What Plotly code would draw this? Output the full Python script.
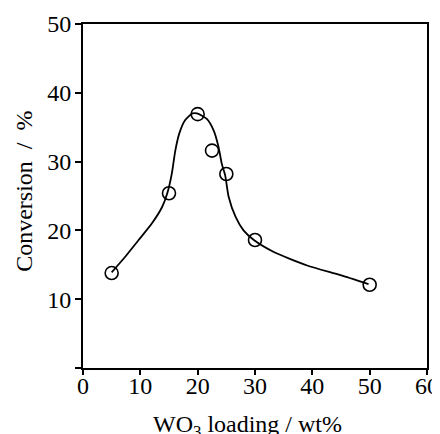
import plotly.graph_objects as go

# Measured data points
wo3_loading = [5, 15, 20, 22.5, 25, 30, 50]
conversion = [13.8, 25.4, 36.9, 31.6, 28.2, 18.6, 12.1]

# Hand-drawn trend curve
curve_x = [5.0, 7.4, 9.7, 12.0, 13.8, 14.7, 15.5, 16.1, 16.8, 17.8, 19.1, 19.9, 21.6, 22.8, 23.65, 24.2,
           24.8, 25.4, 26.6, 28.0, 29.8, 33.2, 39.1, 44.9, 49.8]
curve_y = [13.9, 16.2, 18.6, 21.0, 23.4, 25.4, 28.3, 31.6, 34.1, 36.0, 37.0, 37.0, 36.2, 34.5, 32.1, 29.7,
           28.0, 24.9, 22.0, 20.0, 18.6, 16.9, 14.9, 13.5, 12.2]

x_ticks = [0, 10, 20, 30, 40, 50, 60]
x_labels = ["0", "10", "20", "30", "40", "50", "60"]
y_ticks = [0, 10, 20, 30, 40, 50]
y_labels = ["", "10", "20", "30", "40", "50"]

FONT = "Times New Roman, Liberation Serif, Tinos, serif"

fig = go.Figure()
fig.add_trace(go.Scatter(
    x=curve_x, y=curve_y, mode="lines",
    line=dict(color="black", width=1.8, shape="spline", smoothing=0.6),
    hoverinfo="skip", showlegend=False,
))
fig.add_trace(go.Scatter(
    x=wo3_loading, y=conversion, mode="markers",
    marker=dict(symbol="circle-open", size=13, color="black", line=dict(width=1.6, color="black")),
    showlegend=False,
))

# page has an 8px body margin; figure is offset by it
fig.update_layout(
    width=432, height=426,
    margin=dict(l=75, r=13, t=16, b=66),
    paper_bgcolor="white", plot_bgcolor="white",
    font=dict(family=FONT, size=24, color="black"),
    xaxis=dict(
        range=[0, 60], tickvals=x_ticks, ticktext=x_labels,
        showgrid=False, zeroline=False, automargin=False,
        showline=True, linecolor="black", linewidth=2, mirror=True,
        ticks="outside", ticklen=5, tickwidth=1.5, tickcolor="black",
        ticklabelstandoff=-10,
        tickfont=dict(family=FONT, size=24),
    ),
    yaxis=dict(
        range=[0, 50], tickvals=y_ticks, ticktext=y_labels,
        showgrid=False, zeroline=False, automargin=False,
        showline=True, linecolor="black", linewidth=2, mirror=True,
        ticks="outside", ticklen=6, tickwidth=1.5, tickcolor="black",
        ticklabelstandoff=-1,
        tickfont=dict(family=FONT, size=24),
    ),
    annotations=[
        dict(
            text="WO<sub>3</sub> loading / wt%", xref="paper", yref="paper",
            x=0.479, y=-0.119, xanchor="center", yanchor="top", showarrow=False,
            font=dict(family=FONT, size=24, color="black"),
        ),
        dict(
            text="Conversion\u00a0 / \u00a0%", xref="paper", yref="paper",
            x=-0.1735, y=0.513, xanchor="center", yanchor="middle", textangle=-90, showarrow=False,
            font=dict(family=FONT, size=24, color="black"),
        ),
    ],
)

fig.write_html("out.html")
